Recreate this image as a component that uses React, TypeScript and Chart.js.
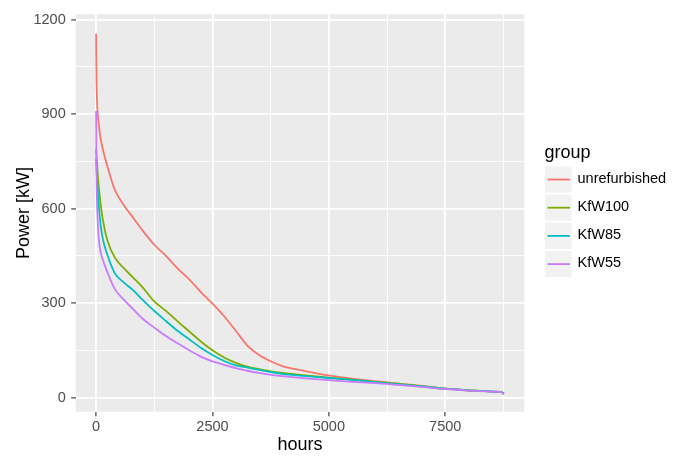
import { useEffect, useRef } from "react";
import { Chart, registerables } from "chart.js";

Chart.register(...registerables);

const FONT = "'Liberation Sans', Arial, sans-serif";

const hours = [0, 5, 10, 20, 35, 60, 100, 150, 250, 400, 600, 800, 1000, 1250, 1500, 1750, 2000, 2250, 2500, 2750, 3000, 3250, 3500, 3750, 4000, 4500, 5000, 5500, 6000, 6500, 7000, 7500, 8000, 8500, 8700, 8760];

const unrefurbished = [1155, 1060, 1000, 940, 900, 865, 820, 785, 730, 660, 610, 570, 530, 485, 450, 410, 375, 335, 298, 258, 212, 165, 135, 115, 100, 84, 70, 60, 52, 44, 37, 28, 23, 19, 18, 12];
const kfw100 = [790, 775, 762, 745, 710, 665, 612, 560, 495, 445, 410, 380, 350, 305, 275, 242, 210, 178, 150, 127, 110, 98, 90, 83, 78, 70, 63, 57, 50, 43, 36, 28, 23, 19, 18, 12];
const kfw85 = [760, 740, 720, 695, 655, 605, 545, 500, 450, 395, 365, 340, 310, 275, 243, 212, 185, 158, 135, 116, 102, 95, 88, 81, 75, 68, 62, 56, 49, 42, 35, 28, 23, 19, 18, 12];
const kfw55 = [910, 800, 700, 620, 560, 500, 460, 435, 395, 345, 310, 280, 250, 222, 195, 172, 150, 130, 115, 104, 93, 85, 78, 72, 68, 61, 55, 50, 46, 40, 34, 27, 22, 19, 17, 11];

const groups = ["unrefurbished", "KfW100", "KfW85", "KfW55"];
const seriesValues = [unrefurbished, kfw100, kfw85, kfw55];
const colors = ["#F8766D", "#7CAE00", "#00BFC4", "#C77CFF"];

const xMajor = [0, 2500, 5000, 7500];
const xMinor = [1250, 3750, 6250, 8750];
const yMajor = [0, 300, 600, 900, 1200];
const yMinor = [150, 450, 750, 1050];

const legendPlugin = {
  id: "ggLegend",
  afterDraw(chart: any) {
    const ctx = chart.ctx;
    ctx.save();
    ctx.fillStyle = "#000000";
    ctx.textBaseline = "alphabetic";
    ctx.textAlign = "left";
    ctx.font = `18px ${FONT}`;
    ctx.fillText("group", 544.5, 158.3);
    groups.forEach((g, i) => {
      const y0 = 166.5 + i * 28.2;
      ctx.fillStyle = "#F2F2F2";
      ctx.fillRect(545, y0, 26.5, 26);
      ctx.strokeStyle = colors[i];
      ctx.lineWidth = 1.8;
      ctx.beginPath();
      ctx.moveTo(547.5, y0 + 13);
      ctx.lineTo(570, y0 + 13);
      ctx.stroke();
      ctx.fillStyle = "#000000";
      ctx.font = `14.5px ${FONT}`;
      ctx.textBaseline = "middle";
      ctx.fillText(g, 577.5, y0 + 12);
    });
    ctx.restore();
  },
};

const bgPlugin = {
  id: "panelBg",
  beforeDraw(chart: any) {
    const { ctx, chartArea } = chart;
    ctx.save();
    ctx.fillStyle = "#FFFFFF";
    ctx.fillRect(0, 0, chart.width, chart.height);
    ctx.fillStyle = "#EBEBEB";
    ctx.fillRect(chartArea.left, chartArea.top, chartArea.right - chartArea.left, chartArea.bottom - chartArea.top);
    ctx.restore();
  },
};

export default function App() {
  const ref = useRef<HTMLCanvasElement | null>(null);

  useEffect(() => {
    if (!ref.current) return;
    const chart = new Chart(ref.current, {
      type: "line",
      data: {
        datasets: groups.map((g, i) => ({
          label: g,
          data: hours.map((h, j) => ({ x: h, y: seriesValues[i][j] })),
          borderColor: colors[i],
          backgroundColor: colors[i],
          borderWidth: 1.8,
          pointRadius: 0,
          cubicInterpolationMode: "monotone",
          fill: false,
          order: groups.length - i,
        })),
      },
      options: {
        animation: false,
        responsive: false,
        events: [],
        layout: { padding: { left: 0, top: 10, right: 156.7, bottom: 0 } },
        plugins: {
          legend: { display: false },
          tooltip: { enabled: false },
        },
        scales: {
          x: {
            type: "linear",
            min: -438,
            max: 9198,
            afterBuildTicks: (s: any) => {
              s.ticks = [...xMajor, ...xMinor].sort((a, b) => a - b).map((v) => ({ value: v }));
            },
            afterFit: (s: any) => {
              s.height = 45.3;
            },
            ticks: {
              autoSkip: false,
              maxRotation: 0,
              padding: 2,
              color: "#4D4D4D",
              font: { family: FONT, size: 14.5 },
              callback: (v: any) => (xMajor.includes(Number(v)) ? String(v) : ""),
            },
            grid: {
              color: "#FFFFFF",
              lineWidth: (c: any) => (c.tick && xMajor.includes(c.tick.value) ? 1.8 : 0.9),
              tickColor: (c: any) => (c.tick && xMajor.includes(c.tick.value) ? "#333333" : "rgba(0,0,0,0)"),
              tickLength: 4.5,
              tickWidth: 1.1,
            },
            border: { display: false },
            title: {
              display: true,
              text: "hours",
              color: "#000000",
              font: { family: FONT, size: 18 },
              padding: { top: 0, bottom: 1 },
            },
          },
          y: {
            type: "linear",
            min: -45,
            max: 1217,
            afterBuildTicks: (s: any) => {
              s.ticks = [...yMajor, ...yMinor].sort((a, b) => a - b).map((v) => ({ value: v }));
            },
            afterFit: (s: any) => {
              s.width = 75.7;
            },
            ticks: {
              autoSkip: false,
              padding: 5.5,
              color: "#4D4D4D",
              font: { family: FONT, size: 14.5 },
              callback: (v: any) => (yMajor.includes(Number(v)) ? String(v) : ""),
            },
            grid: {
              color: "#FFFFFF",
              lineWidth: (c: any) => (c.tick && yMajor.includes(c.tick.value) ? 1.8 : 0.9),
              tickColor: (c: any) => (c.tick && yMajor.includes(c.tick.value) ? "#333333" : "rgba(0,0,0,0)"),
              tickLength: 4.5,
              tickWidth: 1.1,
            },
            border: { display: false },
            title: {
              display: true,
              text: "Power [kW]",
              color: "#000000",
              font: { family: FONT, size: 18 },
              padding: { top: 12.9, bottom: 0 },
            },
          },
        },
      },
      plugins: [bgPlugin, legendPlugin],
    });
    return () => chart.destroy();
  }, []);

  return (
    <div style={{ position: "absolute", left: 0, top: 0, width: 681, height: 457 }}>
      <canvas ref={ref} width={681} height={457} style={{ display: "block", width: 681, height: 457 }} />
    </div>
  );
}
